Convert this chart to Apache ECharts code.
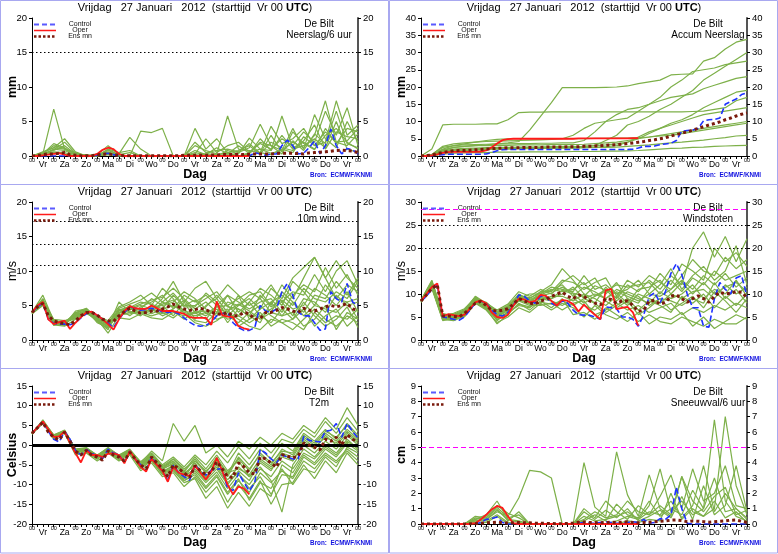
<!DOCTYPE html>
<html lang="nl">
<head>
<meta charset="UTF-8">
<title>EPS De Bilt 27 januari 2012</title>
<script src="https://cdn.jsdelivr.net/npm/echarts@6.0.0/dist/echarts.min.js"></script>
<style>
  html,body{margin:0;padding:0;background:#fff;}
  #chart{width:778px;height:554px;}
</style>
</head>
<body>
<div id="chart"></div>
<script>
// forecast hours from Vr 27 jan 00 UTC, 6-hourly (main lines) and 12-hourly (members)
let dayNames=['Vr','Za','Zo','Ma','Di','Wo','Do','Vr','Za','Zo','Ma','Di','Wo','Do','Vr'];

// ---- Neerslag/6 uur (mm) ----
let precipControl=[
  0,0,0,0, 0,0,0,0, 0,0,0,0, 0.1,0.3,0.4,0.2, 0,0,0,0, 0,0,0,0, 0,0,0,0, 0,0,0,0,
  0,0,0,0, 0,0,0,0, 0,0.5,0.3,0.1, 0.3,0.3,1.5,2.3, 1.5,0.3,0.4,1.2, 2.2,0.3,1.5,3.9,
  1.5,0.3,1.1,0.9, 0.3];
let precipOper=[
  0,0,0.1,0.2, 0.3,0.4,0.2,0, 0,0,0,0, 0.3,0.9,1.2,1.0, 0.3,0,0,0, 0,0,0,0, 0,0,0,0,
  0,0,0,0, 0,0,0,0, 0,0,0,0, 0];
let precipMean=[
  0,0.1,0.2,0.3, 0.3,0.4,0.5,0.2, 0.1,0.05,0.05,0.05, 0.15,0.25,0.3,0.2, 0.1,0.05,0.05,0.05,
  0.05,0.05,0.05,0.05, 0.05,0.05,0.05,0.05, 0.1,0.1,0.1,0.1, 0.1,0.15,0.15,0.2, 0.2,0.2,0.25,0.2,
  0.25,0.3,0.3,0.3, 0.3,0.35,0.4,0.4, 0.4,0.35,0.3,0.45, 0.5,0.55,0.6,0.7, 0.8,0.85,0.8,0.7, 0.5];
let precipMembers=[
  [0,0.3,6.8,1.0,0.5,0,0,0.3,0,0, 0,0,0,0,0,0.5,0.2,0,0.3,0, 0.5,1.0,0.4,0.8,2.0,1.2,3.0,8.0,2.0,1.5, 3.2],
  [0,0.5,1.2,2.5,0.6,0,0.2,1.5,0.3,2.7, 1.0,0,0,0,0,4.0,1.0,2.5,0.5,0, 0.3,2.5,0.8,5.8,1.2,2.0,1.0,3.0,4.0,2.0, 1.0],
  [0,0.3,1.8,1.2,0.2,0,0,0.8,0.2,0, 3.6,3.4,4.0,0,0,0,0,0,0,0.5, 1.2,4.6,1.5,0.8,4.0,1.0,6.0,2.5,1.2,5.0, 2.0],
  [0,0.2,1.0,0.8,0.1,0,0.3,0.5,0,0, 0,0,0,0,0,1.5,0.8,0.3,5.8,1.0, 0.8,0.5,4.3,1.8,2.5,4.0,1.5,2.0,8.0,3.0, 4.5],
  [0,0.4,0.8,1.5,0.3,0,0,1.0,0.5,0.8, 0,0,0,0,0,0.3,2.5,0.5,1.5,2.0, 0.6,1.8,1.0,2.5,1.5,3.5,2.0,6.5,3.0,7.0, 1.5],
  [0,0.1,0.5,0.3,0,0,0,0.2,0,0, 0,0,0,0,0,0,0.3,0.2,0.5,0.8, 1.5,0.3,2.0,1.2,0.8,2.2,4.5,1.0,3.5,2.8, 2.5],
  [0,0.6,1.2,1.0,0.2,0.2,0,0.6,0.1,0, 0,0,0,0,0,0.8,0.2,1.2,0.3,1.5, 0.4,2.0,1.5,0.3,3.5,1.8,0.9,4.0,1.8,4.0, 3.5],
  [0,0.2,0.9,2.0,0.4,0,0,0.4,0,0, 0,0,0,0,0,0.2,0,0,0.8,0.3, 2.6,1.0,0.8,3.0,1.0,1.5,2.5,1.2,5.0,1.0, 0.5],
  [0,0.3,0.6,0.5,0,0,0,0.3,0,0, 0,0,0,0,0,0,0,0,0,0, 0,0.5,0.2,1.0,0.5,2.8,1.5,3.5,2.0,2.2, 4.0],
  [0,0.4,1.5,1.1,0.3,0,0.1,0.9,0.2,0.5, 0,0,0,0,0,2.0,0.5,0.8,1.0,0.6, 1.8,0.4,3.0,0.6,2.2,0.8,3.2,1.8,6.5,1.8, 1.2]
];

// ---- Accum Neerslag (mm) ----
let accumControl=[
  0,0,0.1,0.3, 0.4,0.5,0.5,0.5, 0.5,0.5,0.5,0.5, 0.6,1.0,1.5,1.8, 1.9,1.9,1.9,1.9,
  1.9,1.9,1.9,1.9, 1.9,1.9,1.9,1.9, 1.9,1.9,1.9,1.9, 1.9,1.9,1.9,1.9, 1.9,1.9,1.9,2.0,
  2.3,2.8,2.8,2.9, 3.3,3.5,3.7,4.5, 7.2,7.4,7.5,8.0, 10.2,10.5,10.6,11.0, 15.0,15.8,16.5,17.8, 18.3];
let accumOper=[
  0,0,0.2,0.5, 0.9,1.1,1.2,1.2, 1.2,1.2,1.2,1.3, 1.6,2.5,3.6,4.6, 4.9,5.0,5.0,5.0,
  5.0,5.0,5.0,5.0, 5.0,5.0,5.0,5.0, 5.0,5.1,5.1,5.1, 5.1,5.1,5.1,5.1, 5.1,5.1,5.1,5.2, 5.2];
let accumMean=[
  0,0.1,0.3,0.7, 1.0,1.3,1.5,1.6, 1.6,1.7,1.8,1.9, 2.0,2.1,2.2,2.3, 2.4,2.4,2.4,2.5,
  2.5,2.5,2.5,2.6, 2.6,2.6,2.6,2.7, 2.7,2.7,2.8,2.8, 2.9,3.0,3.1,3.2, 3.3,3.4,3.6,3.8,
  4.0,4.2,4.5,4.7, 5.0,5.3,5.8,6.2, 6.6,7.0,7.5,8.0, 8.5,9.0,9.4,9.9, 10.5,11.0,11.6,12.1, 12.5];
let accumMembers=[
  [0,0.3,1.5,2.5,2.8,3.0,3.2,3.5,3.8,4.2, 7.5,11.5,15.5,19.8,19.8,19.8,19.8,19.9,20.0,20.3, 21.0,21.5,22.0,23.5,23.7,23.8,27.5,28.5,31.0,33.0, 33.8],
  [0,2.0,9.0,9.2,9.2,9.2,9.3,9.3,10.5,12.6, 12.7,12.7,12.8,12.8,12.8,12.8,12.8,12.8,12.8,12.8, 12.8,12.8,12.8,12.8,12.8,12.9,13.0,13.5,14.0,16.0, 17.0],
  [0,0.2,1.5,2.0,2.2,2.3,2.4,2.5,2.5,2.6, 2.6,2.6,2.7,2.7,2.7,2.8,3.0,4.5,6.0,9.0, 10.0,11.5,13.5,15.0,17.0,19.0,22.0,24.0,26.0,28.0, 30.0],
  [0,0.5,2.5,3.0,3.2,3.3,3.4,3.5,3.5,3.6, 3.6,3.7,3.7,3.8,3.8,4.5,7.0,10.0,12.0,13.5, 14.0,15.0,17.0,20.0,22.0,24.5,25.0,25.5,26.5,27.0, 27.5],
  [0,0.1,1.0,1.5,1.6,1.8,2.0,2.2,2.3,2.4, 2.5,2.5,2.6,2.6,2.6,2.8,3.0,3.2,3.5,4.0, 5.0,6.5,8.0,9.5,10.5,12.0,14.0,15.5,17.0,18.5, 19.0],
  [0,0.3,1.8,2.5,2.8,3.0,3.0,3.1,3.1,3.2, 3.2,3.2,3.3,3.3,3.3,3.4,3.6,3.8,4.0,4.5, 5.0,5.5,6.0,6.5,7.0,7.5,8.0,8.5,9.0,9.5, 10.0],
  [0,0.2,1.2,1.8,2.0,2.1,2.2,2.2,2.3,2.3, 2.3,2.3,2.4,2.4,2.4,2.4,2.5,2.5,2.6,2.8, 3.0,3.2,3.5,3.8,4.0,4.3,4.6,5.0,5.3,5.8, 6.0],
  [0,0,0.5,0.8,0.9,1.0,1.0,1.1,1.1,1.1, 1.2,1.2,1.2,1.2,1.3,1.3,1.3,1.4,1.4,1.5, 1.6,1.8,2.0,2.2,2.3,2.5,2.6,2.8,2.9,3.0, 3.1],
  [0,0.4,2.8,3.5,3.8,4.0,4.2,4.3,4.4,4.5, 4.6,4.7,4.8,5.0,6.0,8.0,9.5,10.0,10.5,11.0, 13.0,15.0,16.0,17.0,17.5,18.0,19.5,20.5,21.5,22.5, 23.0],
  [0,0.2,1.0,1.5,1.7,1.8,1.9,2.0,2.0,2.1, 2.1,2.2,2.2,2.3,2.3,2.4,2.5,2.7,3.0,4.0, 5.5,7.0,8.0,9.0,10.0,11.0,12.0,12.5,13.0,13.5, 14.0],
  [0,0.3,2.0,3.0,3.5,4.0,4.5,4.8,5.0,5.0, 5.0,5.0,5.0,5.0,5.0,5.0,5.1,5.1,5.2,5.2, 5.3,5.5,5.8,6.0,6.5,7.0,7.5,8.0,8.5,9.0, 9.5]
];

// ---- 10m wind (m/s) ----
let windControl=[
  4.0,4.8,5.4,3.0, 2.4,2.3,2.3,2.2, 2.5,3.2,3.8,4.0, 3.6,3.0,2.5,1.8, 3.0,4.0,4.8,4.6,
  4.3,4.4,4.6,4.4, 4.1,4.0,4.1,3.8, 3.2,2.6,2.1,2.0, 2.1,2.6,3.5,3.8, 4.0,2.5,1.8,1.4,
  1.4,1.8,5.0,4.2, 4.0,4.5,7.0,8.2, 6.5,4.0,3.5,3.5, 2.5,1.4,1.6,7.0, 6.0,5.5,8.2,5.5, 5.0];
let windOper=[
  4.0,5.0,5.5,3.0, 2.3,2.6,2.8,1.6, 2.5,3.3,4.0,4.1, 3.6,3.0,2.3,1.5, 3.0,4.2,4.9,4.6,
  4.5,4.5,5.0,4.6, 4.2,4.2,4.2,4.0, 3.8,3.3,3.2,3.2, 3.2,2.2,5.6,3.6, 3.4,3.3,2.0,1.7, 1.5];
let windMean=[
  4.0,4.8,5.3,3.5, 2.8,2.5,2.4,2.2, 2.8,3.5,4.0,4.0, 3.6,3.0,2.8,2.7, 3.5,4.1,4.6,4.2,
  3.9,4.0,4.2,4.2, 4.5,4.8,5.2,4.8, 4.5,4.3,4.4,4.6, 4.4,4.0,3.8,3.7, 4.0,3.5,3.5,4.0,
  3.8,3.0,3.1,4.0, 4.0,4.3,4.7,4.5, 4.2,4.0,4.6,4.3, 4.2,4.5,4.8,5.0, 4.8,5.0,5.3,4.5, 4.3];
let windRefs=[10.8,13.9,17.2];
let windMembers=[
  [4.0,6.5,2.8,2.5,3.5,4.2,3.0,1.0,3.5,4.5, 5.0,4.5,6.0,8.5,5.5,3.0,5.0,6.0,8.0,6.5, 3.0,4.5,7.5,6.0,9.0,10.5,12.0,9.0,6.0,8.0, 7.0],
  [3.8,5.0,2.2,2.0,3.0,4.0,3.5,2.8,4.8,5.5, 6.5,5.0,7.5,6.0,3.8,2.5,2.0,2.8,4.0,3.0, 2.0,1.5,3.0,2.5,1.5,3.0,4.5,3.0,2.0,3.5, 2.5],
  [3.9,5.5,2.5,2.6,3.8,4.0,2.8,2.0,4.0,4.2, 3.5,4.8,5.0,5.5,7.0,6.0,4.5,3.5,5.5,5.0, 6.5,7.0,5.0,8.0,6.0,9.0,12.0,9.0,11.5,9.0, 7.5],
  [4.1,5.8,3.0,2.8,3.2,3.8,3.2,2.5,3.2,3.0, 3.8,3.2,3.0,4.0,3.5,4.0,3.0,5.0,2.5,4.5, 3.5,2.5,5.5,3.5,4.0,2.0,3.0,5.0,1.5,4.0, 3.0],
  [4.0,6.0,2.4,2.2,4.2,4.5,2.5,1.8,5.5,4.0, 4.5,6.0,5.0,3.5,5.5,7.5,8.5,6.0,4.0,6.5, 5.0,6.0,4.0,7.0,5.5,4.0,6.5,6.0,8.5,6.5, 9.0],
  [3.9,5.2,2.6,2.4,4.0,4.4,3.0,2.2,3.8,5.0, 4.2,3.8,4.5,5.0,4.0,3.5,4.0,3.0,3.5,2.5, 4.0,5.0,3.5,2.5,3.0,4.5,2.0,3.5,4.5,2.0, 3.5],
  [4.0,5.6,2.9,2.3,3.6,4.1,2.7,1.5,4.5,3.5, 4.8,5.5,6.5,4.5,6.5,5.5,6.5,5.0,6.5,4.0, 5.5,7.5,6.5,5.0,8.5,7.0,5.0,8.0,6.0,5.5, 6.0],
  [4.1,5.4,2.1,2.7,3.4,4.3,3.4,2.6,4.2,4.8, 3.8,4.5,3.5,4.2,3.0,4.2,3.5,4.5,3.0,3.5, 2.5,3.5,2.5,4.5,3.0,5.5,3.5,2.0,3.0,4.8, 1.8],
  [4.0,5.9,2.7,2.1,3.9,4.6,3.1,2.4,4.6,5.2, 5.8,6.8,5.5,6.8,5.0,5.0,6.0,7.0,5.0,6.0, 7.0,6.0,8.0,5.5,7.0,6.5,9.5,7.0,10.0,11.5, 8.0],
  [3.9,5.3,2.3,2.5,3.3,3.9,2.9,2.0,3.6,4.0, 4.0,3.5,4.0,3.2,4.5,2.8,2.5,4.0,4.5,2.0, 3.0,4.0,2.0,3.0,2.5,1.5,4.0,2.5,3.5,3.0, 4.5],
  [4.0,5.7,2.6,2.4,3.7,4.3,2.8,1.9,4.4,4.6, 5.2,5.8,6.2,7.5,6.0,4.5,5.5,4.0,6.5,5.5, 4.5,5.5,6.0,4.0,6.5,8.0,7.0,10.5,7.5,9.5, 6.5],
  [3.9,5.4,2.5,2.3,3.5,4.0,3.1,2.3,4.0,4.4, 4.6,4.0,5.5,4.8,5.0,5.8,3.8,4.8,5.0,3.5, 5.5,3.5,4.5,5.5,3.5,6.0,5.5,4.0,6.5,5.0, 5.5],
  [4.1,5.6,2.7,2.6,3.1,4.2,2.6,1.7,3.9,4.7, 5.5,5.2,4.5,6.5,4.8,4.8,6.8,5.5,3.5,5.0, 6.0,4.5,5.5,6.5,5.0,7.5,6.0,5.5,7.0,6.0, 8.5],
  [4.0,5.1,2.4,2.2,3.8,4.5,3.3,2.1,4.3,4.9, 4.4,4.2,5.2,5.8,4.2,3.8,4.8,6.5,4.8,4.5, 3.5,6.5,4.8,5.8,4.5,5.0,7.5,6.5,5.0,7.0, 4.0],
  [3.8,5.5,2.8,2.5,3.4,4.1,2.9,2.5,3.7,3.8, 4.0,4.4,3.8,4.5,5.8,4.0,4.2,3.8,4.2,5.2, 4.2,3.0,4.0,3.5,5.5,3.5,5.0,4.5,4.0,5.5, 3.0]
];

// ---- Windstoten (m/s) ----
let gustControl=[
  8.5,9.5,11.0,12.0, 5.0,4.8,4.5,4.3, 5.0,6.5,8.0,8.5, 8.0,6.5,5.5,5.2, 6.0,7.5,9.8,9.5,
  8.5,8.0,9.5,9.5, 8.0,7.5,8.5,8.0, 6.5,5.5,5.4,5.4, 5.0,4.5,7.2,7.0, 6.8,5.0,5.0,4.5,
  3.0,5.5,9.5,10.3, 8.1,10.5,14.5,16.6, 14.2,10.0,7.0,7.0, 3.0,2.8,9.0,12.5, 11.0,10.0,13.5,14.0, 9.5];
let gustOper=[
  8.5,10.0,11.5,12.3, 5.2,5.6,5.4,5.2, 5.5,6.8,8.2,8.6, 8.0,6.0,5.0,4.8, 5.5,7.5,9.0,8.8,
  8.2,8.5,9.8,9.6, 8.5,7.5,8.7,8.5, 7.8,6.2,7.7,6.5, 5.5,4.5,10.8,11.1, 6.7,7.0,7.2,6.0, 3.1];
let gustMean=[
  8.5,9.8,11.2,12.0, 5.2,5.2,5.1,5.0, 5.8,6.8,8.0,8.4, 7.5,6.5,6.3,6.5, 6.8,7.8,9.0,8.5,
  8.0,7.8,8.5,8.8, 9.5,10.0,10.4,9.5, 9.0,9.8,9.5,8.5, 8.0,7.6,9.0,8.8, 8.0,8.5,8.5,7.5,
  6.2,6.5,8.5,8.6, 7.8,8.2,9.5,9.8, 9.0,8.2,9.0,9.6, 9.0,8.2,9.5,10.4, 10.0,10.2,10.5,10.4, 9.2];
let gustRefs=[20,25];
let gustAlarm=[28.5];
let gustMembers=[
  [8.5,12.5,5.0,5.5,6.0,9.0,7.5,5.5,6.5,9.5, 8.0,10.5,12.0,15.5,13.0,10.0,8.0,11.5,9.0,12.0, 10.5,13.0,11.0,14.0,12.0,20.0,23.5,18.0,22.5,17.0, 22.0],
  [8.3,11.5,4.5,4.2,5.2,8.2,6.8,3.5,5.5,8.0, 6.5,8.5,7.0,9.0,5.5,6.0,4.5,7.0,5.5,4.0, 6.0,3.5,5.0,4.5,6.0,3.0,5.0,2.5,4.0,5.5, 4.5],
  [8.6,12.8,5.8,5.0,6.5,9.5,8.0,6.5,7.8,10.5, 9.5,11.0,10.0,12.5,14.0,12.0,13.5,10.0,12.5,9.0, 8.0,11.0,14.5,12.0,16.5,15.0,13.0,20.0,17.0,19.0, 16.0],
  [8.4,11.8,4.8,4.6,5.6,8.6,7.0,4.5,6.0,7.5, 7.0,9.0,8.5,7.5,9.0,7.5,6.5,8.5,7.0,8.5, 5.5,7.0,9.0,6.5,8.0,9.5,7.0,10.5,8.5,6.0, 9.0],
  [8.5,12.2,5.3,5.8,6.8,9.2,7.8,6.0,7.2,9.0, 10.0,10.0,11.5,11.0,10.5,14.0,11.0,12.0,10.0,11.0, 13.0,10.0,12.0,15.5,11.0,14.0,16.0,13.0,15.0,20.5, 12.0],
  [8.2,11.2,4.2,4.8,5.0,8.0,6.5,3.8,5.0,7.0, 6.0,8.0,6.5,8.0,7.0,5.0,7.5,5.5,4.5,6.0, 4.0,5.5,4.0,3.5,5.0,4.0,3.0,4.5,3.5,3.5, 5.0],
  [8.7,13.0,5.5,5.2,6.2,9.4,7.2,5.0,7.0,10.0, 8.5,9.5,9.0,10.0,11.5,9.0,10.0,9.0,11.0,10.0, 9.0,8.0,10.5,9.0,10.0,12.0,9.0,11.0,10.0,13.0, 9.5],
  [8.4,11.6,4.6,4.4,5.4,8.4,7.4,4.2,6.2,8.5, 7.5,7.5,8.0,6.5,8.0,8.5,5.5,6.5,8.0,6.5, 7.5,6.0,7.0,8.0,5.5,7.0,6.0,7.5,6.5,8.0, 7.0],
  [8.6,12.0,5.6,5.6,6.6,9.0,8.2,6.2,7.5,9.8, 9.0,10.5,10.5,13.0,12.5,11.0,12.5,13.5,9.5,13.0, 11.5,14.0,12.5,11.0,14.0,17.5,15.0,14.0,18.0,15.5, 17.5],
  [8.5,12.4,4.9,4.9,5.8,8.8,6.6,4.8,6.8,8.8, 7.8,8.8,9.5,9.5,8.5,10.0,9.0,7.5,9.5,7.5, 10.0,9.0,8.0,10.0,9.0,10.5,11.0,9.0,12.0,10.0, 11.5],
  [8.5,12.1,5.1,5.3,6.1,8.9,7.6,5.6,6.9,9.2, 8.8,9.8,10.8,12.0,9.5,11.5,10.5,9.0,10.5,9.5, 8.5,10.0,9.5,11.0,13.0,11.0,14.0,12.0,14.5,11.5, 13.5],
  [8.4,11.9,4.7,5.0,5.5,8.5,7.1,4.9,6.4,8.6, 8.2,9.2,9.0,10.8,10.0,8.0,9.5,11.0,8.5,10.5, 9.5,7.5,9.0,8.5,7.5,9.0,8.0,12.5,9.0,11.0, 8.0],
  [8.6,12.6,5.4,4.7,6.3,9.1,7.9,5.8,7.3,9.6, 9.2,10.2,11.0,10.5,11.0,12.5,9.5,10.5,12.0,11.5, 12.0,12.5,10.0,13.0,10.5,13.5,12.0,15.0,13.0,14.0, 15.0],
  [8.3,11.4,4.4,4.5,5.3,8.1,6.9,4.4,5.8,7.8, 7.2,8.2,7.8,8.5,7.5,9.0,8.0,6.0,7.5,9.0, 6.5,8.5,7.5,6.0,9.5,8.0,10.0,7.0,9.5,7.5, 10.0],
  [8.5,12.3,5.2,5.4,6.4,9.3,7.3,5.2,7.1,9.4, 8.6,9.6,10.2,11.5,10.2,9.5,11.8,10.8,10.2,8.0, 11.0,11.5,13.0,10.0,12.5,10.0,12.5,10.0,11.5,12.5, 10.5]
];

// ---- T2m (Celsius) ----
let tempControl=[
  3.0,4.5,6.0,3.5, 1.5,0.8,3.5,1.5, -1.3,-2.5,-1.1,-2.0, -2.8,-3.4,-1.0,-2.0, -2.5,-4.4,-1.5,-3.5,
  -5.0,-6.3,-3.0,-5.0, -6.5,-8.9,-5.1,-7.0, -8.0,-8.9,-5.1,-6.5, -7.6,-6.3,-6.1,-6.0, -11.0,-11.5,-7.0,-9.5,
  -11.6,-9.5,-1.1,-2.0, -3.5,-4.5,-2.5,-3.0, -3.5,-3.5,2.2,1.2, 1.0,0.8,3.5,3.8, 5.5,2.0,5.5,3.5, 1.8];
let tempOper=[
  3.0,4.5,6.0,4.0, 2.1,2.2,3.5,0.5, -2.0,-4.4,-1.3,-2.5, -2.5,-3.0,-2.2,-2.1, -2.5,-4.6,-1.5,-3.5,
  -5.5,-6.7,-3.5,-5.0, -6.5,-9.3,-5.5,-7.0, -7.5,-7.8,-5.2,-7.0, -8.7,-6.7,-3.2,-6.5, -10.0,-12.5,-10.5,-11.0, -12.5];
let tempMean=[
  3.0,4.4,5.8,3.3, 2.0,1.3,3.3,1.0, -1.5,-2.5,-1.3,-2.5, -3.0,-3.8,-1.5,-2.5, -3.0,-4.0,-1.8,-3.5,
  -5.0,-6.0,-3.0,-4.5, -6.0,-8.0,-5.0,-6.0, -7.0,-8.2,-5.2,-6.5, -7.5,-6.8,-4.2,-6.0, -8.0,-8.2,-4.5,-5.5,
  -7.0,-7.3,-3.0,-3.5, -4.5,-5.6,-2.4,-2.8, -3.2,-2.8,0.5,0.0, -0.5,-1.2,1.5,1.0, 2.0,0.0,2.7,1.5, 0.8];
let tempRefs=[0];
let tempMembers=[
  [3.0,6.2,2.5,3.8,-1.0,-0.8,-2.5,-0.8,-2.5,-1.0, -4.5,-1.5,-4.0,5.5,1.0,5.0,-2.0,0.0,-3.0,1.0, -1.0,2.0,0.0,3.0,1.5,5.0,3.0,7.0,4.0,9.5, 5.0],
  [2.8,5.8,1.5,3.0,-2.5,-2.0,-4.0,-2.0,-4.0,-2.5, -6.5,-4.5,-8.0,-7.0,-10.5,-8.0,-12.0,-9.0,-14.5,-10.0, -13.5,-9.0,-15.0,-10.0,-9.5,-5.0,-8.5,-4.0,-7.0,-2.0, -5.0],
  [3.1,6.0,2.2,3.5,-1.5,-1.0,-3.0,-1.2,-3.2,-1.5, -5.0,-3.0,-6.5,-5.5,-8.0,-6.0,-9.0,-6.0,-10.0,-6.5, -9.0,-4.0,-6.0,-3.0,-4.0,1.0,-1.0,2.5,0.0,3.0, 0.5],
  [2.9,5.5,1.8,3.2,-2.0,-1.5,-3.5,-1.8,-3.5,-2.0, -5.5,-3.5,-7.0,-5.0,-8.5,-4.0,-7.0,-3.0,-7.5,-2.0, -5.0,-1.0,-3.5,0.5,-1.5,3.0,1.0,4.0,1.5,5.5, 2.5],
  [3.0,6.4,2.4,3.6,-1.2,-1.4,-2.8,-1.0,-2.8,-1.6, -4.8,-2.5,-5.5,-4.0,-7.0,-5.5,-8.0,-5.5,-9.5,-7.0, -11.0,-8.0,-12.5,-7.5,-8.0,-3.0,-5.0,-2.0,-4.0,-1.0, -3.0],
  [3.2,5.9,2.0,3.4,-1.8,-1.0,-3.2,-1.5,-3.0,-2.2, -5.2,-3.2,-6.0,-3.5,-6.5,-3.0,-6.0,-2.5,-6.5,-4.0, -8.0,-5.5,-9.0,-17.0,-5.0,-1.0,-3.0,0.0,-2.0,1.5, -1.0],
  [2.9,5.7,1.6,3.3,-1.6,-1.6,-3.4,-1.6,-3.6,-1.4, -5.6,-3.8,-7.0,-6.0,-9.0,-7.0,-10.5,-7.5,-12.0,-8.5, -14.0,-9.5,-11.0,-6.0,-10.0,-6.0,-7.0,-3.0,-5.5,-0.5, -2.0],
  [3.0,6.1,2.6,3.7,-1.0,-0.6,-2.6,-0.6,-2.6,-1.2, -4.2,-2.0,-5.0,-3.0,-5.5,-2.5,-5.0,-1.5,-4.5,-0.5, -3.5,0.5,-2.0,1.5,0.5,4.0,2.0,6.0,3.0,7.0, 3.5],
  [3.1,5.6,2.1,3.1,-2.2,-1.8,-3.6,-1.4,-3.8,-2.0, -6.0,-4.0,-7.5,-6.5,-9.5,-8.5,-13.5,-10.5,-16.0,-12.0, -15.5,-11.0,-13.0,-5.0,-7.0,-2.5,-4.5,-1.0,-3.0,0.5, -1.5],
  [2.8,5.9,1.9,3.5,-1.4,-1.2,-2.9,-1.1,-3.1,-1.7, -5.1,-2.8,-6.2,-4.5,-7.5,-4.5,-8.5,-4.0,-8.0,-3.0, -6.0,-2.5,-5.0,-1.0,-2.5,2.0,0.0,3.0,1.0,4.0, 1.5],
  [3.0,6.0,2.3,3.6,-1.4,-1.1,-2.9,-1.3,-3.0,-1.6, -5.0,-3.1,-6.0,-4.8,-7.2,-5.0,-8.0,-5.0,-8.8,-5.5, -8.0,-4.5,-6.5,-2.0,-4.0,0.0,-2.0,1.0,-1.0,2.5, 0.0],
  [3.1,5.8,2.0,3.4,-1.7,-1.3,-3.1,-1.4,-3.3,-1.8, -5.3,-3.3,-6.8,-5.8,-8.5,-6.5,-9.5,-6.8,-11.0,-7.5, -10.0,-6.0,-8.0,-4.0,-6.0,-2.0,-3.5,-0.5,-2.5,1.0, -1.0],
  [2.9,6.1,2.3,3.5,-1.3,-1.1,-3.0,-1.3,-2.9,-1.5, -4.9,-2.7,-5.8,-4.2,-6.8,-3.5,-7.0,-3.5,-7.0,-3.5, -6.5,-2.0,-4.5,-1.5,-2.0,2.5,0.5,3.5,2.0,5.0, 2.0],
  [3.0,5.9,2.1,3.3,-1.6,-1.4,-3.3,-1.7,-3.4,-1.9, -5.4,-3.6,-7.2,-6.2,-9.0,-7.5,-11.0,-8.0,-12.5,-9.0, -12.0,-7.0,-9.5,-6.5,-8.5,-4.0,-6.0,-2.5,-4.5,-1.5, -4.0],
  [3.0,6.1,2.4,3.6,-1.3,-1.0,-2.7,-0.9,-2.7,-1.3, -4.6,-2.3,-5.3,-3.5,-6.0,-4.0,-6.5,-4.5,-7.0,-6.0, -7.5,-3.5,-5.5,-2.0,-3.0,1.5,-0.5,2.0,0.5,3.5, 1.0]
];

// ---- Sneeuwval/6 uur (cm) ----
let snowControl=[
  0,0,0,0, 0,0,0,0, 0,0,0,0.1, 0.3,0.35,0.45,0.1, 0,0,0,0, 0,0,0,0, 0,0,0,0,
  0,0.05,0.1,0.05, 0.05,0.1,0.15,0.1, 0.05,0.05,0.1,0.15, 0.1,0.3,0.05,0.1, 0.35,0.3,0.6,2.4,
  1.0,0.05,0,0, 0,0,0,0, 0,0,0,0, 0];
let snowOper=[
  0,0,0,0, 0,0,0,0, 0,0,0.05,0.3, 0.6,0.95,1.18,1.05, 0.5,0.05,0,0, 0,0,0,0, 0,0,0,0,
  0,0,0,0, 0,0,0,0, 0,0,0,0, 0];
let snowMean=[
  0,0,0,0, 0,0,0,0, 0,0.01,0.02,0.05, 0.08,0.1,0.12,0.08, 0.06,0.08,0.1,0.08, 0.08,0.06,0.05,0.04,
  0.03,0.02,0.02,0.03, 0.06,0.12,0.13,0.1, 0.1,0.08,0.1,0.12, 0.1,0.12,0.15,0.1, 0.08,0.1,0.12,0.15,
  0.18,0.2,0.25,0.26, 0.22,0.15,0.2,0.18, 0.15,0.12,0.15,0.18, 0.2,0.25,0.26,0.18, 0.1];
let snowAlarm=[5];
let snowMembers=[
  [0,0,0,0,0,0.3,0.6,1.5,0.3,0.2, 0,0,0,0,0,0.5,0.2,0.3,0.5,0.8, 0.3,1.2,3.6,0.8,1.5,0.6,1.0,6.8,1.5,0.5, 0.2],
  [0,0,0,0,0,0.2,0.3,0.8,0.5,1.7, 3.5,3.4,3.0,0,0,0,0,0,0.2,0.5, 0.3,0.8,0.6,1.5,0.4,1.2,3.8,0.8,2.0,1.0, 0.4],
  [0,0,0,0,0,0.5,0.4,1.0,0.2,0.8, 0,0,0,0,0,4.0,1.1,0.5,4.7,1.9, 0.5,3.2,1.0,0.5,3.1,0.8,0.5,1.0,7.0,2.5, 0.6],
  [0,0,0,0,0,0.1,0.5,1.2,0.7,0.4, 0,0,0,0,0,1.0,0.4,1.5,0.8,0.3, 1.2,0.6,1.8,3.2,1.0,3.6,1.5,2.0,3.8,1.2, 1.0],
  [0,0,0,0,0,0.2,0.2,0.6,0.1,0, 0,0,0,0,0,0.2,0.6,0.2,1.3,0.6, 0.4,1.5,0.5,1.0,0.6,2.2,1.0,3.0,0.8,1.0, 0.3],
  [0,0,0,0,0,0.4,0.3,0.9,0.3,0.1, 0,0,0,0,0,0.8,0.3,0.9,0.4,1.0, 0.2,0.5,0.9,0.4,1.8,0.3,2.5,0.6,1.2,3.8, 0.8],
  [0,0,0,0,0,0,0.1,0.5,0,0, 0,0,0,0,0,0,0,0,0,0.2, 0.1,0.3,0.2,2.0,0.3,1.0,0.5,1.5,0.4,0.8, 0.1],
  [0,0,0,0,0,0.3,0.4,1.1,0.4,0.6, 0,0,0,0,0,0.3,0.8,0.4,0.6,1.5, 0.8,0.6,1.2,0.6,3.1,1.5,0.8,1.8,2.4,0.6, 0.9]
];

let precipRefs=[15];

let dotted={color:'#000',type:[1.5,2.5],width:1};
let alarm={color:'#ff00ff',type:[5,3],width:1.2};
let panels=[
  {label:'Neerslag/6 uur', unit:'mm', bold:true, min:0, max:20, step:5,
   ctrl:precipControl, oper:precipOper, mean:precipMean, members:precipMembers,
   refs:precipRefs.map(v=>({v, s:dotted}))},
  {label:'Accum Neerslag', unit:'mm', bold:true, min:0, max:40, step:5,
   ctrl:accumControl, oper:accumOper, mean:accumMean, members:accumMembers, refs:[]},
  {label:'10m wind', unit:'m/s', bold:false, min:0, max:20, step:5,
   ctrl:windControl, oper:windOper, mean:windMean, members:windMembers,
   refs:windRefs.map(v=>({v, s:dotted}))},
  {label:'Windstoten', unit:'m/s', bold:false, min:0, max:30, step:5,
   ctrl:gustControl, oper:gustOper, mean:gustMean, members:gustMembers,
   refs:gustRefs.map(v=>({v, s:dotted})).concat(gustAlarm.map(v=>({v, s:alarm})))},
  {label:'T2m', unit:'Celsius', bold:true, min:-20, max:15, step:5,
   ctrl:tempControl, oper:tempOper, mean:tempMean, members:tempMembers,
   refs:tempRefs.map(v=>({v, s:{color:'#000',type:'solid',width:3}}))},
  {label:'Sneeuwval/6 uur', unit:'cm', bold:true, min:0, max:9, step:1,
   ctrl:snowControl, oper:snowOper, mean:snowMean, members:snowMembers,
   refs:snowAlarm.map(v=>({v, s:alarm}))}
];

let font='"Liberation Sans", Arial, Helvetica, sans-serif';
let tickHours=[], labelHours=[];
for(let h=0;h<=360;h+=6) tickHours.push(h);
for(let h=0;h<=360;h+=12) labelHours.push(h);

let memberColor='#7db049';
let ctrlStyle={color:'#1e32ff', width:1.6, type:[6,3]};
let operStyle={color:'#ff1a1a', width:1.8};
let meanStyle={color:'#7a1a0c', width:3, type:'dotted'};

function toPoints(vals, step){
  return vals.map((v,i)=>[i*step, v]);
}
function xLabel(v){
  let h=Math.round(v);
  if(h%24===0) return '{s|00}';
  return '{d|'+dayNames[Math.floor(h/24)]+'}';
}
function txt(x,y,text,font2,fill,align){
  return {type:'text', silent:true, x:x, y:y,
    style:{text:text, fill:fill, font:font2, align:align, textAlign:align,
      verticalAlign:'middle', textVerticalAlign:'middle'}};
}

let grids=[],xAxes=[],yAxes=[],series=[],graphics=[];
panels.forEach((p,k)=>{
  let ox=(k%2)*389, oy=Math.floor(k/2)*184;
  grids.push({left:ox+32, top:oy+18, width:326, height:138});
  xAxes.push({
    type:'value', gridIndex:k, min:0, max:360,
    name:'Dag', nameLocation:'middle', nameGap:12.5, nameMoveOverlap:false,
    nameTextStyle:{fontSize:12.5, fontWeight:'bold', color:'#000', fontFamily:font},
    axisLine:{onZero:false, lineStyle:{color:'#000', width:1}},
    axisTick:{customValues:tickHours, length:3, lineStyle:{color:'#000'}},
    axisLabel:{customValues:labelHours, formatter:xLabel, margin:1, color:'#000',
      hideOverlap:false,
      rich:{s:{fontSize:5.5, lineHeight:6, fontFamily:font},
            d:{fontSize:8.5, lineHeight:15, fontFamily:font}}},
    splitLine:{show:false}
  });
  let yBase={type:'value', gridIndex:k, min:p.min, max:p.max, interval:p.step,
    splitLine:{show:false}};
  yAxes.push(Object.assign({}, yBase, {
    position:'left', name:p.unit, nameLocation:'middle', nameGap:13, nameMoveOverlap:false,
    nameTextStyle:{fontSize:12.5, fontWeight:p.bold?'bold':'normal', color:'#000', fontFamily:font},
    axisLine:{show:true, onZero:false, lineStyle:{color:'#000', width:1}},
    axisTick:{show:true, length:3, lineStyle:{color:'#000'}},
    axisLabel:{fontSize:9.5, color:'#000', margin:5, fontFamily:font}
  }));
  yAxes.push(Object.assign({}, yBase, {
    position:'right',
    axisLine:{show:true, onZero:false, lineStyle:{color:'#555', width:2}},
    axisTick:{show:true, length:3, lineStyle:{color:'#000'}},
    axisLabel:{fontSize:9.5, color:'#000', margin:5, fontFamily:font}
  }));
  p.members.forEach((m,j)=>{
    series.push({type:'line', name:'lid'+k+'_'+j, xAxisIndex:k, yAxisIndex:2*k,
      data:toPoints(m,12), symbol:'none', silent:true,
      lineStyle:{color:memberColor, width:1.2}, z:1});
  });
  series.push({type:'line', name:'Control', xAxisIndex:k, yAxisIndex:2*k,
    data:toPoints(p.ctrl,6), symbol:'none', silent:true, lineStyle:ctrlStyle, z:3});
  series.push({type:'line', name:'Oper', xAxisIndex:k, yAxisIndex:2*k,
    data:toPoints(p.oper,6), symbol:'none', silent:true, lineStyle:operStyle, z:4});
  series.push({type:'line', name:'Ens mn', xAxisIndex:k, yAxisIndex:2*k,
    data:toPoints(p.mean,6), symbol:'none', silent:true, lineStyle:meanStyle, z:5,
    markLine:{silent:true, symbol:['none','none'], label:{show:false}, animation:false,
      data:p.refs.map(r=>({yAxis:r.v, lineStyle:r.s}))}});

  // panel frame
  graphics.push({type:'rect', silent:true, z:0,
    shape:{x:ox+0.5, y:oy+0.5, width:388, height:(k>=4?184.5:184)},
    style:{fill:'none', stroke:'#a8a8f0', lineWidth:1}});
  // legend keys
  let lx1=ox+34, lx2=ox+56;
  [[oy+24.5,'#5a5aff',[5,3],1.8,'Control'],[oy+30.5,'#ff1a1a',null,1.5,'Oper'],[oy+36.5,'#7a1a0c',[2.5,2],2.5,'Ens mn']]
    .forEach(it=>{
      graphics.push({type:'line', silent:true, z:10, shape:{x1:lx1,y1:it[0],x2:lx2,y2:it[0]},
        style:{stroke:it[1], lineWidth:it[3], lineDash:it[2]}});
      graphics.push(txt(ox+80, it[0], it[4], '7px '+font, '#111', 'center'));
    });
  // title, station, source
  graphics.push({type:'text', silent:true, x:ox+195, y:oy+8,
    style:{text:'Vrijdag   27 Januari   2012  (starttijd  Vr 00 {b|UTC})',
      fill:'#000', font:'11px '+font, align:'center', textAlign:'center',
      verticalAlign:'middle', textVerticalAlign:'middle',
      rich:{b:{fontWeight:'bold', fontSize:11, fontFamily:font, fill:'#000'}}}});
  graphics.push(txt(ox+319, oy+24, 'De Bilt', '10px '+font, '#000', 'center'));
  graphics.push(txt(ox+319, oy+35, p.label, '10px '+font, '#000', 'center'));
  graphics.push(txt(ox+372, oy+175, 'Bron:  ECMWF/KNMI', 'bold 6.3px '+font, '#1010e0', 'right'));
});

let chart=echarts.init(document.getElementById('chart'), null, {renderer:'canvas'});
chart.setOption({
  animation:false,
  backgroundColor:'#fff',
  textStyle:{fontFamily:font},
  grid:grids, xAxis:xAxes, yAxis:yAxes, series:series, graphic:graphics
});
</script>
</body>
</html>
